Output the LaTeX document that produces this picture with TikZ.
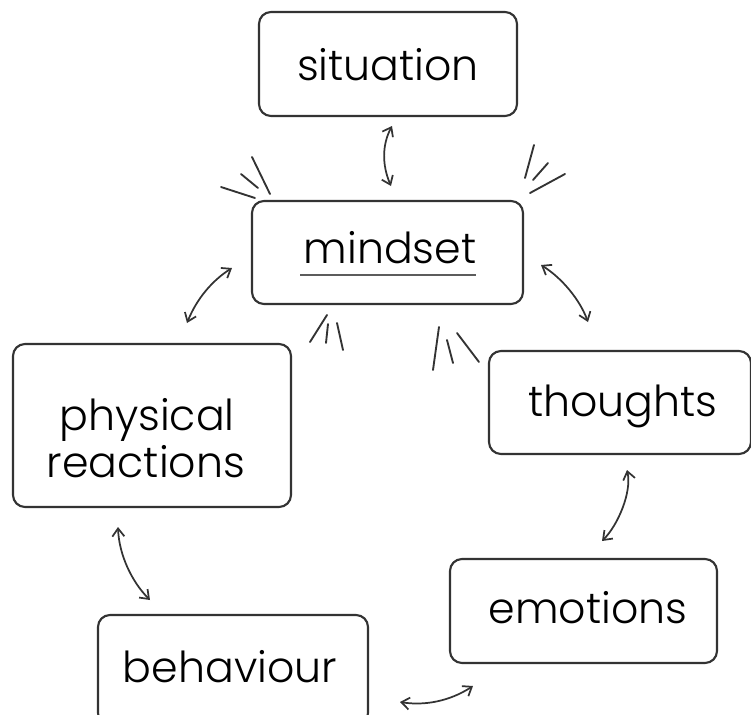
\documentclass[tikz,border=0pt]{standalone}
\usepackage{fontspec}
\setmainfont{Poppins Light}
\usetikzlibrary{arrows.meta}
\definecolor{ink}{HTML}{333333}
\tikzset{
  box/.style={draw=ink, line width=1.6pt, rounded corners=9pt, inner sep=0pt},
  txt/.style={anchor=base, inner sep=0pt, text=black, font=\fontsize{32}{32}\selectfont},
  conn/.style={draw=ink, line width=1.3pt, {Straight Barb[length=6pt,width=9pt,line width=1.3pt]}-{Straight Barb[length=6pt,width=9pt,line width=1.3pt]}},
  burst/.style={draw=ink, line width=1.4pt, line cap=round}
}
\begin{document}
\begin{tikzpicture}[x=0.75pt,y=-0.75pt]
\useasboundingbox (0,0) rectangle (751,715);
\clip (0,0) rectangle (751,715);
% boxes
\node[box, minimum width=258*0.75pt, minimum height=104*0.75pt] (sit) at (388,64) {};
\node[box, minimum width=271*0.75pt, minimum height=103*0.75pt] (mind) at (387.5,252.5) {};
\node[box, minimum width=278*0.75pt, minimum height=163*0.75pt] (phys) at (152,425.5) {};
\node[box, minimum width=262*0.75pt, minimum height=103*0.75pt] (thou) at (620,402.5) {};
\node[box, minimum width=267*0.75pt, minimum height=104*0.75pt] (emo) at (583.5,611) {};
\node[box, minimum width=270*0.75pt, minimum height=110*0.75pt] (beh) at (233,670) {};
% texts
\node[txt] (tsit) at (388,80) {situation};
\node[txt] (tmind) at (390,263) {mindset};
\node[txt] (tphys1) at (147,430) {physical};
\node[txt] (tphys2) at (146,477) {reactions};
\node[txt] (tthou) at (623,416) {thoughts};
\node[txt] (temo) at (588,623) {emotions};
\node[txt] (tbeh) at (230,682) {behaviour};
\coordinate (ul1) at (300,275);
\coordinate (ul2) at (476,275);
\draw[ink!80, line width=0.9pt] (ul1) -- (ul2);
% connector end points
\coordinate (a1) at (392,126); \coordinate (b1) at (391,186);
\coordinate (a2) at (232,268); \coordinate (b2) at (187,323);
\coordinate (a3) at (541,265); \coordinate (b3) at (588,322);
\coordinate (a4) at (627,470); \coordinate (b4) at (602,541);
\coordinate (a5) at (118,527); \coordinate (b5) at (150,600);
\coordinate (a6) at (400,702); \coordinate (b6) at (473,686);
\draw[conn] (a1) .. controls (382,145) and (382,165) .. (b1);
\draw[conn] (a2) .. controls (213,280) and (197,298) .. (b2);
\draw[conn] (a3) .. controls (562,278) and (580,300) .. (b3);
\draw[conn] (a4) .. controls (632,492) and (618,525) .. (b4);
\draw[conn] (a5) .. controls (119,555) and (132,582) .. (b5);
\draw[conn] (a6) .. controls (425,706) and (450,701) .. (b6);
% bursts
\draw[burst] (221,187) -- (255,198);
\draw[burst] (241,174) -- (258,188);
\draw[burst] (252,157) -- (270,194);
\draw[burst] (534,145) -- (525,178);
\draw[burst] (548,163) -- (533,180);
\draw[burst] (565,174) -- (530,193);
\draw[burst] (327,315) -- (310,342);
\draw[burst] (328,324) -- (326,343);
\draw[burst] (337,323) -- (343,350);
\draw[burst] (439,327) -- (433,370);
\draw[burst] (447,340) -- (453,363);
\draw[burst] (457,333) -- (479,362);
\end{tikzpicture}
\end{document}
